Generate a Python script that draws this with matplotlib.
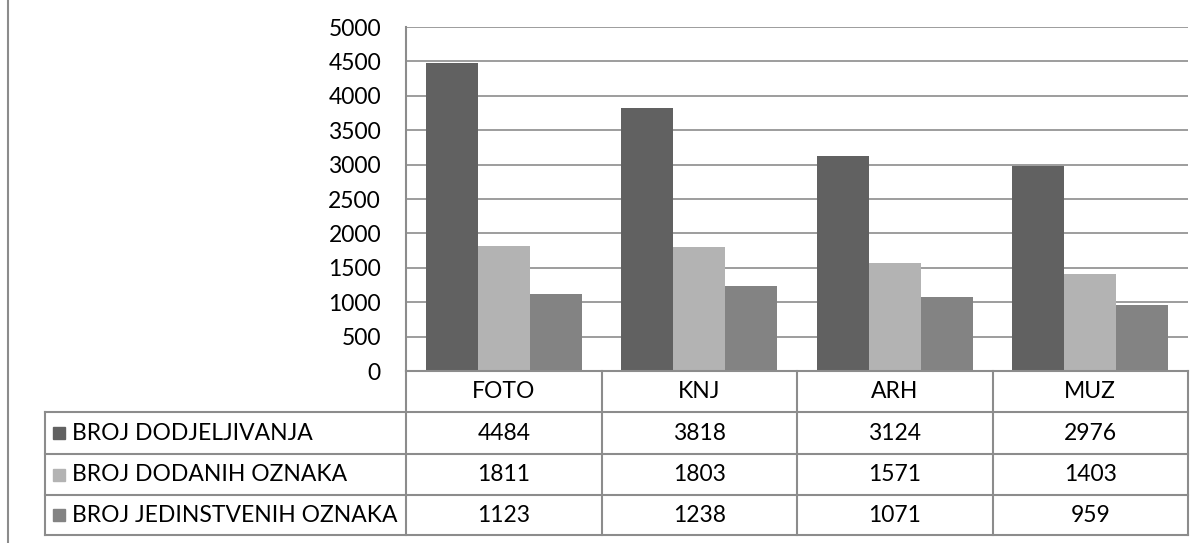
import matplotlib.pyplot as plt
import numpy as np

plt.rcParams['font.family'] = ['Lato', 'DejaVu Sans']

categories = ['FOTO', 'KNJ', 'ARH', 'MUZ']
series_names = ['BROJ DODJELJIVANJA', 'BROJ DODANIH OZNAKA', 'BROJ JEDINSTVENIH OZNAKA']
dodjeljivanja = [4484, 3818, 3124, 2976]
dodanih = [1811, 1803, 1571, 1403]
jedinstvenih = [1123, 1238, 1071, 959]
yticks = [0, 500, 1000, 1500, 2000, 2500, 3000, 3500, 4000, 4500, 5000]

series = [dodjeljivanja, dodanih, jedinstvenih]
colors = ['#616161', '#b3b3b3', '#838383']
line_col = '#8c8c8c'
fs = 16.5

W, H = 1204, 543
fig = plt.figure(figsize=(W / 100, H / 100), dpi=100)

# plot area in pixels
px_l, px_r, px_t, px_b = 406, 1188, 27, 371
ax = fig.add_axes([px_l / W, 1 - px_b / H, (px_r - px_l) / W, (px_b - px_t) / H])

x = np.arange(len(categories))
bw = 0.2667
for i, vals in enumerate(series):
    ax.bar(x + (i - 1) * bw, vals, width=bw, color=colors[i], zorder=3)

ax.set_xlim(-0.5, len(categories) - 0.5)
ax.set_ylim(0, 5000)
ax.set_yticks(yticks)
ax.set_yticklabels([str(v) for v in yticks], fontsize=fs)
ax.set_xticks([])
ax.tick_params(axis='y', length=0, pad=18)
ax.grid(axis='y', color=line_col, linewidth=1.2, zorder=0)
for s in ['top', 'right', 'bottom']:
    ax.spines[s].set_visible(False)
ax.spines['left'].set_color(line_col)
ax.spines['left'].set_linewidth(1.5)

# data table drawn in pixel coordinates
tb = fig.add_axes([0, 0, 1, 1])
tb.set_xlim(0, W)
tb.set_ylim(H, 0)
tb.axis('off')

tbl_l = 45
row_y = [371, 412, 454, 495, 535]
col_x = [px_l + k * (px_r - px_l) / len(categories) for k in range(len(categories) + 1)]
lw = 1.5

# outer left frame line
tb.plot([8, 8], [0, H], color=line_col, lw=1.5)

# horizontal lines
tb.plot([px_l, px_r], [row_y[0], row_y[0]], color=line_col, lw=lw)
for y in row_y[1:]:
    tb.plot([tbl_l, px_r], [y, y], color=line_col, lw=lw)
# vertical lines
tb.plot([tbl_l, tbl_l], [row_y[1], row_y[-1]], color=line_col, lw=lw)
for cx in col_x:
    tb.plot([cx, cx], [row_y[0], row_y[-1]], color=line_col, lw=lw)

for j, cat in enumerate(categories):
    cx = (col_x[j] + col_x[j + 1]) / 2
    tb.text(cx, (row_y[0] + row_y[1]) / 2, cat, ha='center', va='center', fontsize=fs)

for i, name in enumerate(series_names):
    cy = (row_y[i + 1] + row_y[i + 2]) / 2
    tb.add_patch(plt.Rectangle((53, cy - 6), 12, 12, color=colors[i]))
    tb.text(72, cy, name, ha='left', va='center', fontsize=fs)
    for j, v in enumerate(series[i]):
        cx = (col_x[j] + col_x[j + 1]) / 2
        tb.text(cx, cy, str(v), ha='center', va='center', fontsize=fs)

fig.savefig('out.png', dpi=100)
